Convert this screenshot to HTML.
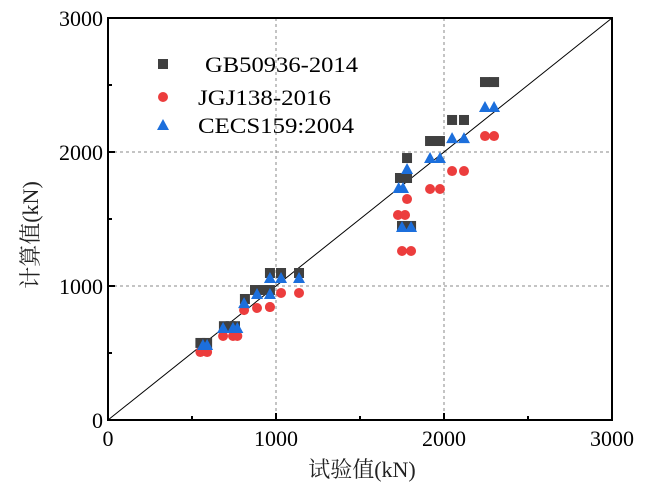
<!DOCTYPE html>
<html><head><meta charset="utf-8"><style>
body{margin:0;background:#fff;width:649px;height:486px;overflow:hidden}
svg text{font-family:"Liberation Serif","Noto Serif CJK SC",serif}
</style></head><body>
<svg id="c" width="649" height="486"></svg>
<script>
const xTicks=[0,1000,2000,3000];
const yTicks=[0,1000,2000,3000];
const gbX=[550,590,690,730,756,815,875,923,964,964,1030,1137,1738,1750,1780,1780,1804,1917,1976,2048,2119,2244,2298];
const gbY=[575,575,700,700,700,903,970,970,970,1097,1097,1097,1806,1448,1806,1955,1448,2082,2082,2239,2239,2522,2522];
const jgjX=[550,590,685,744,770,810,887,964,964,1030,1137,1726,1750,1768,1780,1804,1917,1976,2048,2119,2244,2298];
const jgjY=[507,507,627,627,627,820,836,843,843,948,948,1530,1261,1530,1649,1261,1724,1724,1858,1858,2119,2119];
const ceX=[565,590,685,744,770,810,887,964,964,1030,1137,1730,1756,1750,1780,1804,1917,1976,2048,2119,2244,2298];
const ceY=[560,560,687,687,687,872,940,940,1060,1060,1060,1731,1731,1440,1873,1440,1955,1955,2104,2104,2336,2336];
const legendLabels=["GB50936-2014","JGJ138-2016","CECS159:2004"];
const L=108,R=612,T=18,B=420;
const X=v=>L+(v/3000)*(R-L), Y=v=>B-(v/3000)*(B-T);
const s=document.getElementById('c');const NS='http://www.w3.org/2000/svg';
function mk(t,a,p){const e=document.createElementNS(NS,t);for(const k in a)e.setAttribute(k,a[k]);(p||s).appendChild(e);return e;}
[1000,2000].forEach(v=>{
 const g1=mk('line',{x1:X(v),x2:X(v),y1:T,y2:B,stroke:'#888','stroke-dasharray':'3,3'});
 
 
 const g2=mk('line',{x1:L,x2:R,y1:Y(v),y2:Y(v),stroke:'#888','stroke-dasharray':'3,3'});
 
 
});
const diag=mk('line',{x1:X(0),y1:Y(0),x2:X(3000),y2:Y(3000),stroke:'#000','stroke-width':1});


function sq(x,y){const e=mk('rect',{x:x-5,y:y-5,width:10,height:10,fill:'#404040'});}
function ci(x,y){const e=mk('circle',{cx:x,cy:y,r:5,fill:'#ec3d3d'});}
function tr(x,y){const e=mk('polygon',{points:`${x},${y-6} ${x-6},${y+5} ${x+6},${y+5}`,fill:'#1c6fdc'});}
gbX.forEach((v,i)=>sq(X(v),Y(gbY[i])));
jgjX.forEach((v,i)=>ci(X(v),Y(jgjY[i])));
ceX.forEach((v,i)=>tr(X(v),Y(ceY[i])));
const fr=mk('rect',{x:L,y:T,width:R-L,height:B-T,fill:'none',stroke:'#000','stroke-width':2});


for(let v=0;v<=3000;v+=500){
 const major=v%1000===0, len=major?7:4;
 mk('line',{x1:X(v),x2:X(v),y1:B,y2:B-len,stroke:'#000','stroke-width':2});
 mk('line',{x1:L,x2:L+len,y1:Y(v),y2:Y(v),stroke:'#000','stroke-width':2});
}
xTicks.forEach(v=>{const t=mk('text',{x:X(v),y:B+26,'text-anchor':'middle','font-size':22});t.textContent=v;
 
 });
yTicks.forEach(v=>{const t=mk('text',{x:L-5,y:Y(v)+8,'text-anchor':'end','font-size':22});t.textContent=v;
 
 });
const xt=mk('text',{x:362,y:477,'text-anchor':'middle','font-size':22,fill:'#222'});xt.textContent='试验值(kN)';


const yt=mk('text',{x:0,y:0,'text-anchor':'middle','font-size':22,fill:'#222',transform:'translate(38,235) rotate(-90)'});yt.textContent='计算值(kN)';


const ly=[64,97,125];
sq(163,ly[0]);ci(163,ly[1]);tr(163,ly[2]);
const lx=[205,198,198], lw=[153,133,156];
legendLabels.forEach((l,i)=>{const t=mk('text',{x:lx[i],y:ly[i]+8,'font-size':22,textLength:lw[i],lengthAdjust:'spacingAndGlyphs'});t.textContent=l;
 
 });
</script>
</body></html>
